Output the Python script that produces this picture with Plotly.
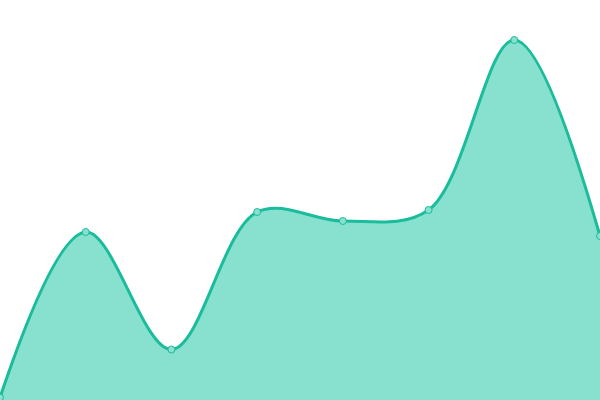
import plotly.graph_objects as go

categories = [0, 1, 2, 3, 4, 5, 6, 7]
values = [2.5, 168, 50.5, 188, 179, 190, 360, 164]

fig = go.Figure(go.Scatter(
    x=categories, y=values,
    mode="lines+markers",
    line=dict(color="#1abc9c", width=3, shape="spline", smoothing=1),
    fill="tozeroy",
    fillcolor="#88e0cf",
    marker=dict(size=7, color="#88e0cf", line=dict(color="#1abc9c", width=1)),
    cliponaxis=False,
    hoverinfo="skip",
))
fig.update_layout(
    width=600, height=400,
    margin=dict(l=0, r=0, t=0, b=0),
    paper_bgcolor="white", plot_bgcolor="white",
    showlegend=False,
    xaxis=dict(visible=False, range=[0, 7], fixedrange=True),
    yaxis=dict(visible=False, range=[0, 400], fixedrange=True),
)
fig.write_html(
    "out.html",
    config={"displayModeBar": False},
    post_script="document.body.style.margin='0';document.body.style.padding='0';",
)
